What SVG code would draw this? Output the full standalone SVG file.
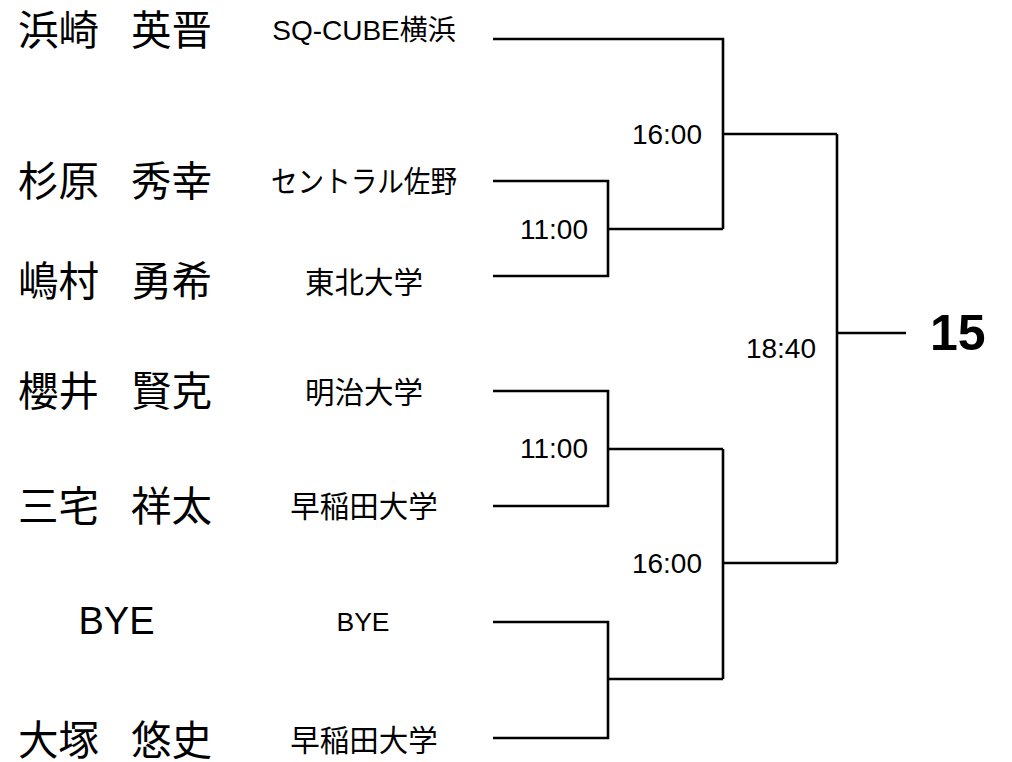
<svg xmlns="http://www.w3.org/2000/svg" width="1012" height="762" viewBox="0 0 1012 762">
<style>
.name{font-family:"Noto Sans CJK JP","Noto Sans CJK SC",sans-serif;font-size:40.5px;fill:#000;dominant-baseline:central}
.bye{font-family:"Liberation Sans",Arial,sans-serif;font-size:38px;fill:#000;dominant-baseline:central;text-anchor:middle}
.team{font-family:"Noto Sans CJK JP","Noto Sans CJK SC",sans-serif;font-size:29.5px;fill:#000;dominant-baseline:central;text-anchor:middle}
.teamL{font-family:"Liberation Sans","Noto Sans CJK JP",sans-serif;font-size:28px;fill:#000;dominant-baseline:central;text-anchor:middle}
.time{font-family:"Liberation Sans",Arial,sans-serif;font-size:28px;fill:#000;dominant-baseline:central;text-anchor:end}
.final{font-family:"Liberation Sans",Arial,sans-serif;font-size:50px;font-weight:bold;fill:#000;dominant-baseline:central}
.ln{fill:none;stroke:#000;stroke-width:2.6;stroke-linejoin:miter}
</style>
<rect width="1012" height="762" fill="#fff"/>
<g id="connectors">
<path class="ln" d="M493 181 H608 V276 H493 M608 229 H723"/>
<path class="ln" d="M493 39 H723 V229 M723 134 H837"/>
<path class="ln" d="M493 391 H608 V506 H493 M608 449 H723"/>
<path class="ln" d="M493 622 H608 V738 H493 M608 679 H723"/>
<path class="ln" d="M723 449 V679 M723 563 H837"/>
<path class="ln" d="M837 134 V563 M837 333 H906"/>
</g>
<g id="player1">
<text class="name" x="18" y="27">浜崎</text>
<text class="name" x="131" y="27">英晋</text>
<text class="teamL" x="364" y="30">SQ-CUBE横浜</text>
</g>
<g id="player2">
<text class="name" x="18" y="178">杉原</text>
<text class="name" x="131" y="178">秀幸</text>
<text class="team" x="364" y="179" textLength="186" lengthAdjust="spacingAndGlyphs">セントラル佐野</text>
</g>
<g id="player3">
<text class="name" x="18" y="278">嶋村</text>
<text class="name" x="131" y="278">勇希</text>
<text class="team" x="364" y="280">東北大学</text>
</g>
<g id="player4">
<text class="name" x="18" y="388">櫻井</text>
<text class="name" x="131" y="388">賢克</text>
<text class="team" x="364" y="390">明治大学</text>
</g>
<g id="player5">
<text class="name" x="18" y="503">三宅</text>
<text class="name" x="131" y="503">祥太</text>
<text class="team" x="364" y="504">早稲田大学</text>
</g>
<g id="player6">
<text class="bye" x="116.5" y="621">BYE</text>
<text class="teamL" x="363" y="622" style="font-size:26.5px">BYE</text>
</g>
<g id="player7">
<text class="name" x="18" y="737">大塚</text>
<text class="name" x="131" y="737">悠史</text>
<text class="team" x="364" y="738">早稲田大学</text>
</g>
<g id="match-11-00-a"><text class="time" x="588" y="229">11:00</text></g>
<g id="match-16-00-a"><text class="time" x="702" y="134">16:00</text></g>
<g id="match-11-00-b"><text class="time" x="588" y="448">11:00</text></g>
<g id="match-16-00-b"><text class="time" x="702" y="563">16:00</text></g>
<g id="match-18-40"><text class="time" x="816" y="348">18:40</text></g>
<g id="final"><text class="final" x="930" y="333">15</text></g>
</svg>
